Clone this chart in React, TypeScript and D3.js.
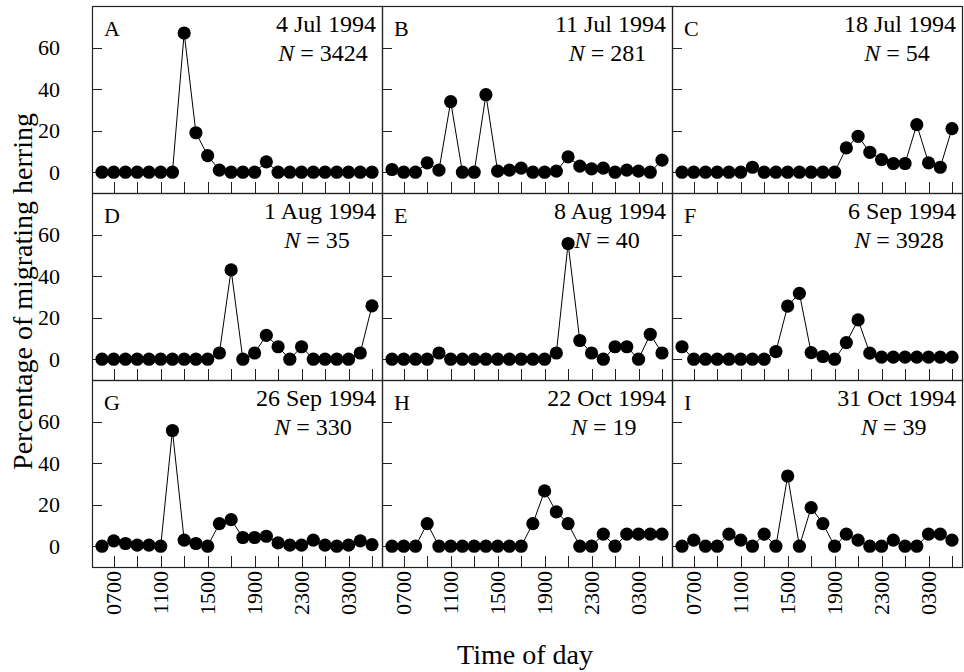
import { useEffect, useRef } from "react";
import * as d3 from "d3";

// hourly bins, 0600 through 0500 the next morning
const hours = [
  "0600", "0700", "0800", "0900", "1000", "1100", "1200", "1300",
  "1400", "1500", "1600", "1700", "1800", "1900", "2000", "2100",
  "2200", "2300", "0000", "0100", "0200", "0300", "0400", "0500",
];
const tickHours = hours.filter((_, i) => i % 2 === 1);
const labelHours = ["0700", "1100", "1500", "1900", "2300", "0300"];
const yTicks = [0, 20, 40, 60];

const letters = ["A", "B", "C", "D", "E", "F", "G", "H", "I"];
const dates = [
  "4 Jul 1994", "11 Jul 1994", "18 Jul 1994",
  "1 Aug 1994", "8 Aug 1994", "6 Sep 1994",
  "26 Sep 1994", "22 Oct 1994", "31 Oct 1994",
];
const counts = [3424, 281, 54, 35, 40, 3928, 330, 19, 39];

const seriesA = [0, 0, 0, 0, 0, 0, 0, 67, 19, 8, 1, 0, 0, 0, 5, 0, 0, 0, 0, 0, 0, 0, 0, 0];
const seriesB = [1.3, 0, 0, 4.5, 1, 34, 0, 0, 37.3, 0.5, 1, 2, 0, 0, 0.5, 7.4, 2.9, 1.6, 2, 0, 1, 0.5, 0, 5.8];
const seriesC = [0, 0, 0, 0, 0, 0, 2.4, 0, 0, 0, 0, 0, 0, 0, 11.7, 17.3, 9.6, 6.1, 4.2, 4.2, 22.9, 4.5, 2.4, 21];
const seriesD = [0, 0, 0, 0, 0, 0, 0, 0, 0, 0, 3, 43, 0, 3, 11.5, 6, 0, 6, 0, 0, 0, 0, 3, 25.7];
const seriesE = [0, 0, 0, 0, 3, 0, 0, 0, 0, 0, 0, 0, 0, 0, 3, 55.7, 9, 3, 0, 6, 6, 0, 12, 3];
const seriesF = [6, 0, 0, 0, 0, 0, 0, 0, 3.7, 25.6, 31.7, 3.2, 1.3, 0, 8, 18.9, 2.9, 1, 1, 1, 1, 1, 1, 1];
const seriesG = [0, 2.6, 1.3, 0.5, 0.5, 0, 55.7, 2.9, 1.3, 0, 10.9, 12.8, 4.2, 4.2, 4.8, 1.6, 0.5, 0.5, 2.9, 0.5, 0, 0.5, 2.6, 0.8];
const seriesH = [0, 0, 0, 10.9, 0, 0, 0, 0, 0, 0, 0, 0, 10.9, 26.6, 16.5, 10.9, 0, 0, 5.8, 0, 5.8, 5.8, 5.8, 5.8];
const seriesI = [0, 2.9, 0, 0, 5.8, 2.9, 0, 5.8, 0, 33.8, 0, 18.6, 10.9, 0, 5.8, 2.9, 0, 0, 2.9, 0, 0, 5.8, 5.8, 2.9];

const allSeries = [seriesA, seriesB, seriesC, seriesD, seriesE, seriesF, seriesG, seriesH, seriesI];

const FONT = "'Liberation Serif', 'Times New Roman', serif";

function App() {
  const svgRef = useRef<SVGSVGElement>(null);

  useEffect(() => {
    document.body.style.margin = "0";
    const svg = d3.select(svgRef.current);
    svg.selectAll("*").remove();

    const left = 92;
    const top = 6;
    const pw = 290;
    const ph = 187;

    const x = d3.scalePoint<string>().domain(hours).range([10, pw - 10]);
    const y = d3.scaleLinear().domain([-10, 80]).range([ph, 0]);
    const line = d3
      .line<number>()
      .x((_, j) => x(hours[j]) as number)
      .y((d) => y(d));

    allSeries.forEach((values, i) => {
      const col = i % 3;
      const row = Math.floor(i / 3);
      const g = svg
        .append("g")
        .attr("transform", `translate(${left + col * pw},${top + row * ph})`);

      g.append("rect")
        .attr("x", 0.5)
        .attr("y", 0.5)
        .attr("width", pw)
        .attr("height", ph)
        .attr("fill", "none")
        .attr("stroke", "#222")
        .attr("stroke-width", 1.2);

      // inward ticks
      g.selectAll(".ytick")
        .data(yTicks)
        .join("line")
        .attr("x1", 0)
        .attr("x2", 10)
        .attr("y1", (d) => Math.round(y(d)) + 0.5)
        .attr("y2", (d) => Math.round(y(d)) + 0.5)
        .attr("stroke", "#222");

      g.selectAll(".xtick")
        .data(tickHours)
        .join("line")
        .attr("x1", (d) => Math.round(x(d) as number) + 0.5)
        .attr("x2", (d) => Math.round(x(d) as number) + 0.5)
        .attr("y1", ph)
        .attr("y2", ph - 11)
        .attr("stroke", "#222");

      if (col === 0) {
        g.selectAll(".ylab")
          .data(yTicks)
          .join("text")
          .attr("x", -32)
          .attr("y", (d) => y(d))
          .attr("dy", "0.35em")
          .attr("text-anchor", "end")
          .attr("font-family", FONT)
          .attr("font-size", 22)
          .text((d) => d);
      }

      if (row === 2) {
        g.selectAll(".xlab")
          .data(labelHours)
          .join("text")
          .attr("transform", (d) => `translate(${x(d)},${ph + 4}) rotate(-90)`)
          .attr("dy", "0.35em")
          .attr("text-anchor", "end")
          .attr("font-family", FONT)
          .attr("font-size", 22)
          .text((d) => d);
      }

      g.append("path")
        .attr("d", line(values))
        .attr("fill", "none")
        .attr("stroke", "#000")
        .attr("stroke-width", 1);

      g.selectAll(".dot")
        .data(values)
        .join("circle")
        .attr("cx", (_, j) => x(hours[j]) as number)
        .attr("cy", (d) => y(d))
        .attr("r", 6.6)
        .attr("fill", "#000");

      g.append("text")
        .attr("x", 12)
        .attr("y", 30)
        .attr("font-family", FONT)
        .attr("font-size", 22)
        .text(letters[i]);

      const dateText = g
        .append("text")
        .attr("x", pw - 6)
        .attr("y", 26)
        .attr("text-anchor", "end")
        .attr("font-family", FONT)
        .attr("font-size", 24)
        .text(dates[i]);
      const dateLen = (dateText.node() as SVGTextElement).getComputedTextLength();

      const nText = g
        .append("text")
        .attr("x", pw - 6 - dateLen / 2 - 3)
        .attr("y", 55)
        .attr("text-anchor", "middle")
        .attr("font-family", FONT)
        .attr("font-size", 24);
      nText.append("tspan").attr("font-style", "italic").text("N");
      nText.append("tspan").text(` = ${counts[i]}`);
    });

    svg
      .append("text")
      .attr("x", 525)
      .attr("y", 664)
      .attr("text-anchor", "middle")
      .attr("font-family", FONT)
      .attr("font-size", 28)
      .text("Time of day");

    svg
      .append("text")
      .attr("transform", `translate(32,${top + (3 * ph) / 2 + 5}) rotate(-90)`)
      .attr("text-anchor", "middle")
      .attr("font-family", FONT)
      .attr("font-size", 28)
      .text("Percentage of migrating herring");
  }, []);

  return (
    <svg
      ref={svgRef}
      width={964}
      height={672}
      style={{ display: "block", background: "#fff" }}
    />
  );
}

export default App;
